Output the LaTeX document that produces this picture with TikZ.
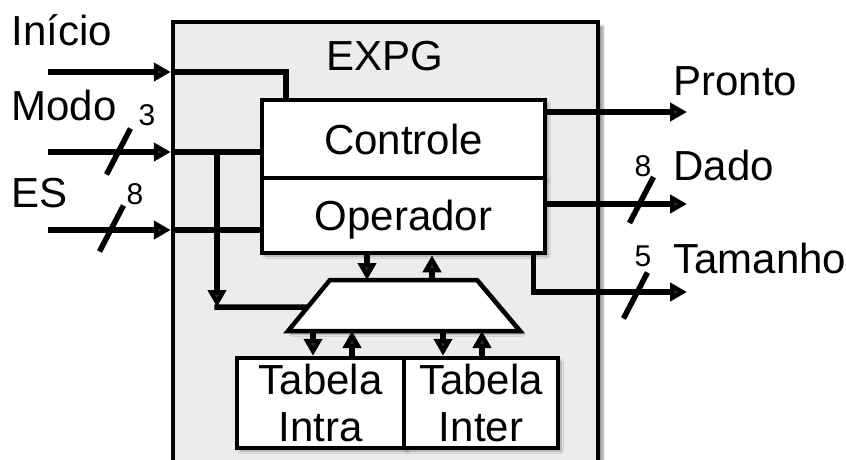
\documentclass[tikz,border=0pt]{standalone}
\usepackage{fontspec}
\setmainfont{Liberation Sans}
\usetikzlibrary{arrows.meta,shadows.blur,calc}

\begin{document}
\begin{tikzpicture}[x=1pt,y=-1pt,
  wire/.style={line width=5.5pt},
  sig/.style={wire,-{Triangle[length=17pt,width=18pt]}},
  shade/.style={blur shadow={shadow xshift=3pt,shadow yshift=-3pt,shadow opacity=35,shadow blur steps=6}},
  blk/.style={draw,line width=4.5pt,fill=white,rectangle,inner sep=0pt,shade},
  big/.style={font=\fontsize{42}{47}\selectfont},
  small/.style={font=\fontsize{30}{34}\selectfont},
  busmark/.pic={\draw[wire] (-12,23) -- (12,-23);},
]
\useasboundingbox (0,0) rectangle (846,459);
\clip (0,0) rectangle (846,459);

% enclosing EXPG block
\node[draw,line width=4.5pt,fill=gray!15,inner sep=0pt,minimum width=425pt,minimum height=498pt,
  blur shadow={shadow xshift=5pt,shadow yshift=-4pt,shadow opacity=40,shadow blur steps=8}]
  (expg) at (385.5,271) {};
\node[big,anchor=base] (expgT) at (385,70) {EXPG};

% control / operator blocks
\node[blk,minimum width=283pt,minimum height=78pt,text height=30pt,text depth=0pt,big] (ctrl) at (403.5,139) {Controle};
\node[blk,minimum width=283pt,minimum height=75pt,text height=30pt,text depth=0pt,big] (oper) at (403.5,215.5) {Operador};

% multiplexer
\coordinate (muxTL) at (330,280);
\coordinate (muxTR) at (477,280);
\coordinate (muxBR) at (520,331);
\coordinate (muxBL) at (288,331);
\draw[line width=4.5pt,fill=white,shade] (muxTL) -- (muxTR) -- (muxBR) -- (muxBL) -- cycle;

% tables
\node[blk,minimum width=167pt,minimum height=90pt,big,align=center] (intra) at (320.5,403) {Tabela\\Intra};
\node[blk,minimum width=154pt,minimum height=90pt,big,align=center] (inter) at (481,403) {Tabela\\Inter};

% ports on the multiplexer
\coordinate (mt1) at (367,280);
\coordinate (mt2) at (432,280);
\coordinate (mb1) at (313,331);
\coordinate (mb2) at (352,331);
\coordinate (mb3) at (443,331);
\coordinate (mb4) at (482,331);

\draw[sig] (oper.south -| mt1) -- (mt1);
\draw[sig] (mt2) -- (oper.south -| mt2);
\draw[sig] (mb1) -- (mb1 |- intra.north);
\draw[sig] (mb2 |- intra.north) -- (mb2);
\draw[sig] (mb3) -- (mb3 |- inter.north);
\draw[sig] (mb4 |- inter.north) -- (mb4);

% inputs
\coordinate (iIni) at (48,72);
\coordinate (iMod) at (48,152);
\coordinate (iES) at (48,230);
\node[big,anchor=base west] (tIni) at (8,45) {Início};
\node[big,anchor=base west] (tMod) at (8,120) {Modo};
\node[big,anchor=base west] (tES) at (8,207) {ES};

\draw[sig] (iIni) -- (iIni -| expg.west);
\draw[wire] (iIni -| expg.west) -| ($(ctrl.north west)+(26,0)$);
\draw[sig] (iMod) -- (iMod -| expg.west);
\draw[wire] (iMod -| expg.west) -- (iMod -| ctrl.west);
\draw[sig] (iES) -- (iES -| expg.west);
\draw[wire] (iES -| expg.west) -- (iES -| oper.west);

\coordinate (jMod) at (217,152);
\coordinate (sel) at (217,307);
\draw[sig] (jMod) -- (sel);
\draw[wire] ($(sel)+(-2.75,0)$) -- ($(muxTL)!0.53!(muxBL)$);

\pic at (118.5,151.5) {busmark};
\pic at (111.5,228.5) {busmark};
\node[small,anchor=base] (nMod) at (147,125) {3};
\node[small,anchor=base] (nES) at (135,204) {8};

% outputs
\coordinate (oPr) at (687,112);
\coordinate (oDa) at (687,204);
\coordinate (oTa) at (687,292);
\draw[sig] (oPr -| ctrl.east) -- (oPr);
\draw[sig] (oDa -| oper.east) -- (oDa);
\draw[sig] ($(oper.south east)+(-14,0)$) |- (oTa);

\pic at (641.5,200) {busmark};
\pic at (635.5,295.5) {busmark};
\node[small,anchor=base] (nDa) at (643,176) {8};
\node[small,anchor=base] (nTa) at (643,266) {5};

\node[big,anchor=base west] (tPr) at (670,95) {Pronto};
\node[big,anchor=base west] (tDa) at (670,180) {Dado};
\node[big,anchor=base west] (tTa) at (670,273) {Tamanho};
\end{tikzpicture}
\end{document}
